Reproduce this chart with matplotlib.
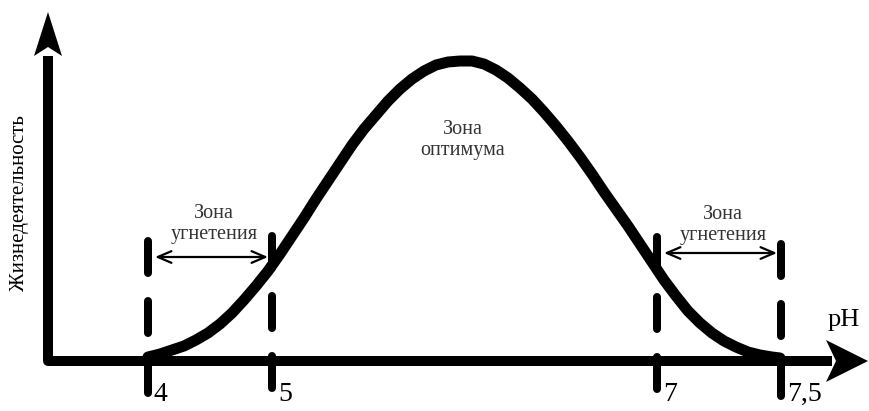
import matplotlib
matplotlib.use("Agg")
import matplotlib.pyplot as plt
from matplotlib.patches import Polygon

plt.rcParams['font.family'] = ['Liberation Serif', 'DejaVu Serif']

# bell curve (schematic x, height above the pH axis)
curve_x = [148, 160, 172, 184, 196, 208, 220, 232, 244, 256, 268, 280, 292, 304,
           316, 328, 340, 352, 364, 376, 388, 400, 412, 424, 436, 448, 460, 472,
           484, 496, 508, 520, 532, 544, 556, 568, 580, 592, 604, 616, 628, 640,
           652, 664, 676, 688, 700, 712, 724, 736, 748, 760, 772, 780]
curve_y = [4, 7, 11, 15, 21, 28, 37, 48, 61, 75, 90, 107, 125, 143,
           162, 180, 198, 216, 232, 246, 260, 272, 282, 290, 296, 299, 300, 300,
           297, 291, 283, 273, 262, 249, 235, 220, 204, 187, 169, 152, 135, 117,
           99, 81, 65, 50, 38, 28, 20, 14, 9, 6, 4, 3]

# zone borders on the schematic axis and their pH labels
border_x = [148, 272, 657, 781]
border_top = [124, 129, 128, 121]
ph_labels = ['4', '5', '7', '7,5']

zone_text = ['Зона\nугнетения', 'Зона\nоптимума', 'Зона\nугнетения']
zone_text_x = [214, 463, 723]
zone_text_y = [137, 221, 136]

fig = plt.figure(figsize=(8.69, 4.11), dpi=100)
ax = fig.add_axes([0, 0, 1, 1])
ax.set_xlim(0, 869)
ax.set_ylim(-50, 361)
ax.axis('off')

px = 0.72  # one pixel in points

# axes of the diagram
ax.plot([48, 48, 832], [305, 0, 0], color='black', lw=10 * px,
        solid_joinstyle='round', solid_capstyle='butt')
ax.add_patch(Polygon([(48, 349), (34, 305), (48, 314), (62, 305)],
                     closed=True, color='black', lw=0))
ax.add_patch(Polygon([(868, 0), (826, 21), (836, 0), (826, -21)],
                     closed=True, color='black', lw=0))

# dashed zone borders
for x, top in zip(border_x, border_top):
    ax.plot([x, x], [top - 4, -36], color='black', lw=8 * px,
            linestyle=(0, (4, 3.5)), dash_capstyle='round')

# the curve
ax.plot(curve_x, curve_y, color='black', lw=11 * px,
        solid_capstyle='round', solid_joinstyle='round')

# arrows over the inhibition zones
for x0, x1, y in [(border_x[0], border_x[1], 104), (border_x[2], border_x[3], 108)]:
    ax.annotate('', xy=(x1 - 4, y), xytext=(x0 + 7, y),
                arrowprops=dict(arrowstyle='<->,head_length=0.7,head_width=0.3',
                                lw=1.6, color='black', shrinkA=0, shrinkB=0,
                                mutation_scale=14))

for t, x, y in zip(zone_text, zone_text_x, zone_text_y):
    ax.text(x, y, t, ha='center', va='center', fontsize=14.5,
            color='#333333', linespacing=1.1)

for x, lab in zip(border_x, ph_labels):
    ax.text(x + 6, -21, lab, ha='left', va='top', fontsize=20, color='black')

ax.text(844, 41, 'pH', ha='center', va='center', fontsize=19, color='black')
ax.text(20, 158, 'Жизнедеятельность', rotation=90, ha='center', va='center',
        fontsize=15, color='black')

fig.savefig('out.png', dpi=100)
